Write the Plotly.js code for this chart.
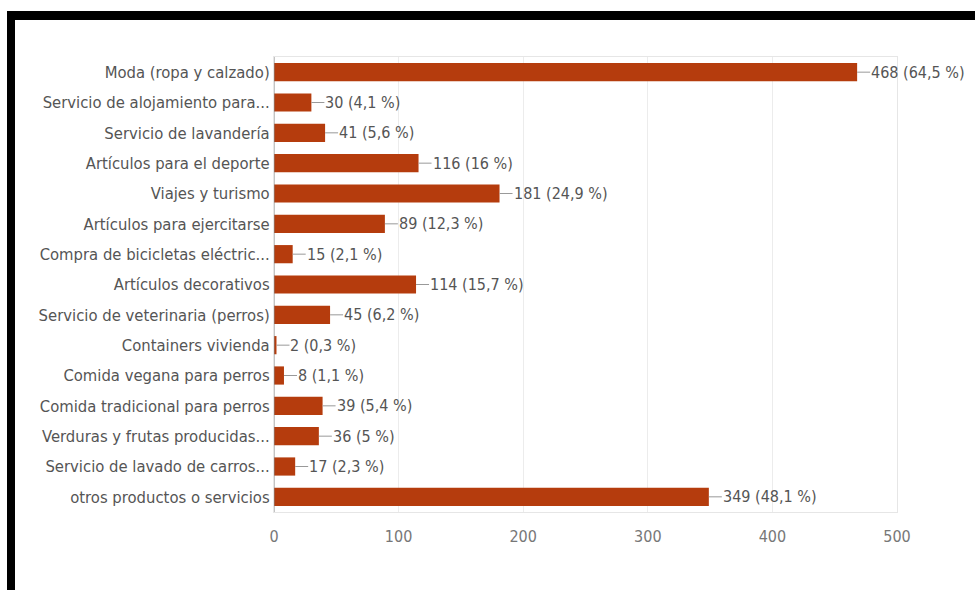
<!DOCTYPE html>
<html>
<head>
<meta charset="utf-8">
<script src="https://cdn.plot.ly/plotly-3.0.1.min.js"></script>
<style>
html,body{margin:0;padding:0;background:#fff;}
#frame{position:absolute;left:7px;top:11px;width:968px;height:579px;border-top:9px solid #000;border-left:8px solid #000;box-sizing:border-box;}
#chart{position:absolute;left:0;top:0;width:975px;height:590px;}
</style>
</head>
<body>
<div id="chart"></div>
<div id="frame"></div>
<script>
var categories = [
  "Moda (ropa y calzado)",
  "Servicio de alojamiento para...",
  "Servicio de lavandería",
  "Artículos para el deporte",
  "Viajes y turismo",
  "Artículos para ejercitarse",
  "Compra de bicicletas eléctric...",
  "Artículos decorativos",
  "Servicio de veterinaria (perros)",
  "Containers vivienda",
  "Comida vegana para perros",
  "Comida tradicional para perros",
  "Verduras y frutas producidas...",
  "Servicio de lavado de carros...",
  "otros productos o servicios"
];
var counts = [468, 30, 41, 116, 181, 89, 15, 114, 45, 2, 8, 39, 36, 17, 349];
var percents = ["64,5 %", "4,1 %", "5,6 %", "16 %", "24,9 %", "12,3 %", "2,1 %", "15,7 %", "6,2 %", "0,3 %", "1,1 %", "5,4 %", "5 %", "2,3 %", "48,1 %"];
var xTicks = [0, 100, 200, 300, 400, 500];

var fontFam = '"DejaVu Sans Condensed", "Liberation Sans Narrow", Arial, sans-serif';

var trace = {
  type: 'bar',
  orientation: 'h',
  x: counts,
  y: categories,
  marker: {color: '#b53c0d'},
  hoverinfo: 'none'
};

var annotations = counts.map(function(v, i){
  return {
    x: v, y: categories[i], xref: 'x', yref: 'y',
    text: v + ' (' + percents[i] + ')',
    showarrow: true, arrowhead: 0, arrowwidth: 1, arrowcolor: '#999',
    ax: 13, ay: 0, xanchor: 'left', borderpad: 0, standoff: 0,
    font: {family: fontFam, size: 16, color: '#555'}
  };
});

var layout = {
  width: 975, height: 590,
  margin: {l: 274, r: 78, t: 57, b: 78, pad: 0},
  paper_bgcolor: '#fff', plot_bgcolor: '#fff',
  bargap: 0.4,
  showlegend: false,
  xaxis: {
    range: [0, 500], tickvals: xTicks, ticktext: xTicks.map(String),
    showgrid: true, gridcolor: '#ececec', zeroline: false,
    showline: true, linecolor: '#e6e6e6', mirror: true,
    ticks: '', ticklen: 0, ticklabelstandoff: 10,
    tickfont: {family: fontFam, size: 16, color: '#777'}
  },
  yaxis: {
    autorange: 'reversed', type: 'category',
    showgrid: false, zeroline: false,
    showline: true, linecolor: '#e6e6e6', mirror: true,
    ticks: '', ticklen: 0,
    tickfont: {family: fontFam, size: 16.5, color: '#555'}
  },
  shapes: [{type: 'line', xref: 'x', yref: 'paper', x0: 0, x1: 0, y0: 0, y1: 1, line: {color: '#888', width: 1}}],
  annotations: annotations
};

Plotly.newPlot('chart', [trace], layout, {displayModeBar: false, staticPlot: true});
</script>
</body>
</html>
